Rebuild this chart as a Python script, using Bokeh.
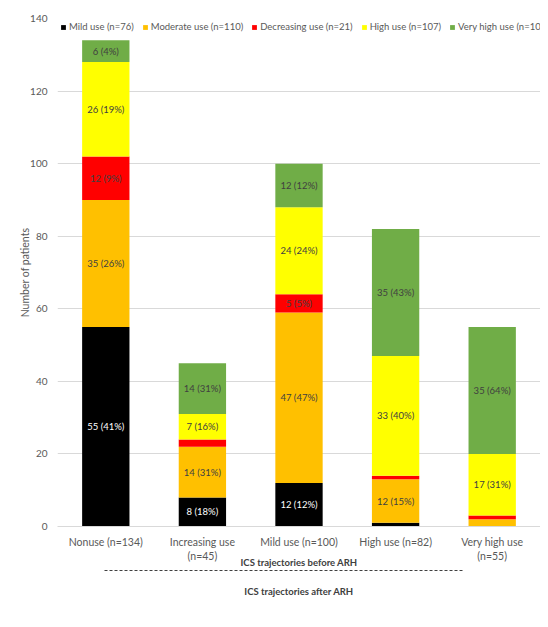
from bokeh.plotting import figure
from bokeh.models import (ColumnDataSource, FactorRange, Range1d, LinearAxis,
                          Legend, LegendItem, FixedTicker)
from bokeh.core.properties import value
from bokeh.embed import file_html
from bokeh.resources import INLINE

# ---- data ----
categories = ["Nonuse (n=134)", "Increasing use\n(n=45)", "Mild use (n=100)",
              "High use (n=82)", "Very high use\n(n=55)"]
series_names = ["Mild use (n=76)", "Moderate use (n=110)", "Decreasing use (n=21)",
                "High use (n=107)", "Very high use (n=102)"]
mild = [55, 8, 12, 1, 0]
moderate = [35, 14, 47, 12, 2]
decreasing = [12, 2, 5, 1, 1]
high = [26, 7, 24, 33, 17]
very_high = [6, 14, 12, 35, 35]
colors = ["#000000", "#FFC000", "#FF0000", "#FFFF00", "#70AD47"]
y_ticks = [0, 20, 40, 60, 80, 100, 120, 140]

FONT = "Lato"
series = [mild, moderate, decreasing, high, very_high]
keys = ["s0", "s1", "s2", "s3", "s4"]

data = {"cat": categories}
for k, s in zip(keys, series):
    data[k] = s
source = ColumnDataSource(data)

p = figure(frame_width=483, frame_height=508,
           x_range=FactorRange(*categories, range_padding=0),
           y_range=Range1d(0, 140), output_backend="svg", toolbar_location=None,
           min_border_left=57, min_border_right=0, min_border_top=18, min_border_bottom=0)
p.outline_line_color = None
p.xgrid.grid_line_color = None
p.ygrid.grid_line_color = "#d9d9d9"
p.ygrid.ticker = FixedTicker(ticks=y_ticks)

rends = p.vbar_stack(keys, x="cat", width=0.49, color=colors, source=source, line_width=0)

# segment labels
lx, ly, lt, lc = [], [], [], []
for i, c in enumerate(categories):
    total = sum(s[i] for s in series)
    base = 0
    for j, s in enumerate(series):
        v = s[i]
        if v >= 5:
            lx.append(c)
            ly.append(base + v / 2)
            lt.append(f"{v} ({round(100 * v / total)}%)")
            lc.append("#ffffff" if j == 0 else "#404040")
        base += v
p.text(x=lx, y=ly, text=lt, text_color=lc, text_font=value(FONT), text_font_size="9.5px",
       text_align="center", text_baseline="middle")

# y axis
p.yaxis.ticker = FixedTicker(ticks=y_ticks)
p.yaxis.axis_line_color = None
p.yaxis.major_tick_line_color = None
p.yaxis.major_tick_out = 0
p.yaxis.minor_tick_line_color = None
p.yaxis.minor_tick_out = 0
p.yaxis.major_label_text_color = "#595959"
p.yaxis.major_label_text_font = FONT
p.yaxis.major_label_text_font_size = "10px"
p.yaxis.major_label_standoff = 10
p.yaxis.axis_label = "Number of patients"
p.yaxis.axis_label_text_font = FONT
p.yaxis.axis_label_text_font_style = "normal"
p.yaxis.axis_label_text_font_size = "10.5px"
p.yaxis.axis_label_text_color = "#595959"
p.yaxis.axis_label_standoff = -4

# x axis (categories) with the "before" title as its label
p.xaxis.axis_line_color = "#d9d9d9"
p.xaxis.major_tick_line_color = None
p.xaxis.major_tick_out = 0
p.xaxis.minor_tick_line_color = None
p.xaxis.minor_tick_out = 0
p.xaxis.major_label_text_color = "#595959"
p.xaxis.major_label_text_font = FONT
p.xaxis.major_label_text_font_size = "10.5px"
p.xaxis.major_label_standoff = 9
p.xaxis.axis_label = "ICS trajectories before ARH"
p.xaxis.axis_label_text_font = FONT
p.xaxis.axis_label_text_font_style = "bold"
p.xaxis.axis_label_text_font_size = "9.5px"
p.xaxis.axis_label_text_color = "#404040"
p.xaxis.axis_label_standoff = -8

# invisible spacer
spacer = LinearAxis(ticker=FixedTicker(ticks=[]), axis_line_color=None,
                    major_tick_line_color=None, minor_tick_line_color=None,
                    major_tick_out=11, minor_tick_out=0)
p.add_layout(spacer, "below")

# dashed separator with the "after" title (bounds in category units)
sep = LinearAxis(ticker=FixedTicker(ticks=[]), bounds=(0.487, 4.193),
                 axis_line_color="#404040", axis_line_dash="3 2", axis_line_width=1,
                 major_tick_line_color=None, minor_tick_line_color=None,
                 major_tick_out=0, minor_tick_out=0,
                 axis_label="ICS trajectories after ARH", axis_label_text_font=FONT,
                 axis_label_text_font_style="bold", axis_label_text_font_size="9.5px",
                 axis_label_text_color="#404040", axis_label_standoff=15)
p.add_layout(sep, "below")

# legend kept inside the plot area (top strip) so it is always visible
legend = Legend(items=[LegendItem(label=n, renderers=[r]) for n, r in zip(series_names, rends)],
                orientation="horizontal", location="top_left", glyph_width=6, glyph_height=6,
                label_standoff=3, spacing=8, padding=0, margin=3,
                label_text_font=FONT, label_text_font_size="9.5px", label_text_color="#595959",
                border_line_color=None, background_fill_alpha=0, label_height=10)
p.add_layout(legend, "center")

open("out.html", "w").write(file_html(p, INLINE))
